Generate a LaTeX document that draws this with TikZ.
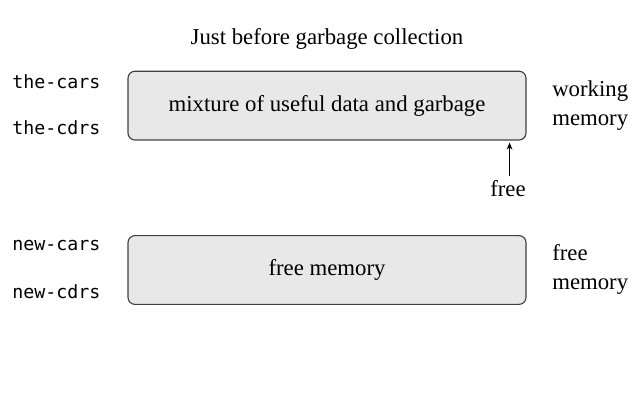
\documentclass[tikz,border=0pt]{standalone}
\usepackage{fontspec}
\setmainfont{Liberation Serif}
\setmonofont{DejaVu Sans Mono}
\usetikzlibrary{positioning,arrows.meta,calc}

\begin{document}
\begin{tikzpicture}[
  txt/.style={font=\fontsize{16.2}{20.5}\selectfont, inner sep=0pt},
  reg/.style={txt, font=\ttfamily\fontsize{13}{20}\selectfont, anchor=west},
  side/.style={txt, align=left, anchor=west},
  mem/.style={draw=black!75, fill=gray!18, rounded corners=5pt, thick,
    minimum width=9.95cm, minimum height=1.72cm, txt}
]
  \useasboundingbox (0,0) rectangle (16,-10);

  \node[txt] (title) at (8.175,-0.975) {Just before garbage collection};

  % working memory
  \node[mem] (old) at (8.175,-2.64) {mixture of useful data and garbage};
  \node[reg] (cars) at (0.3,-2.03)  {the-cars};
  \node[reg] (cdrs) at (0.3,-3.18)  {the-cdrs};
  \node[side] (wlab) at (13.8,-2.63) {working\\memory};

  \coordinate (top) at ($(old.south east)+(-0.425,-0.05)$);
  \node[txt] (free) at (12.7,-4.72) {free};
  \draw[-{Stealth[length=5pt,width=4pt]}, semithick] ($(free.north -| top)+(0,0.1)$) -- (top);

  % free memory
  \node[mem] (new) at (8.175,-6.75) {free memory};
  \node[reg] (ncars) at (0.3,-6.15) {new-cars};
  \node[reg] (ncdrs) at (0.3,-7.28) {new-cdrs};
  \node[side] (flab) at (13.8,-6.73) {free\\memory};
\end{tikzpicture}
\end{document}
